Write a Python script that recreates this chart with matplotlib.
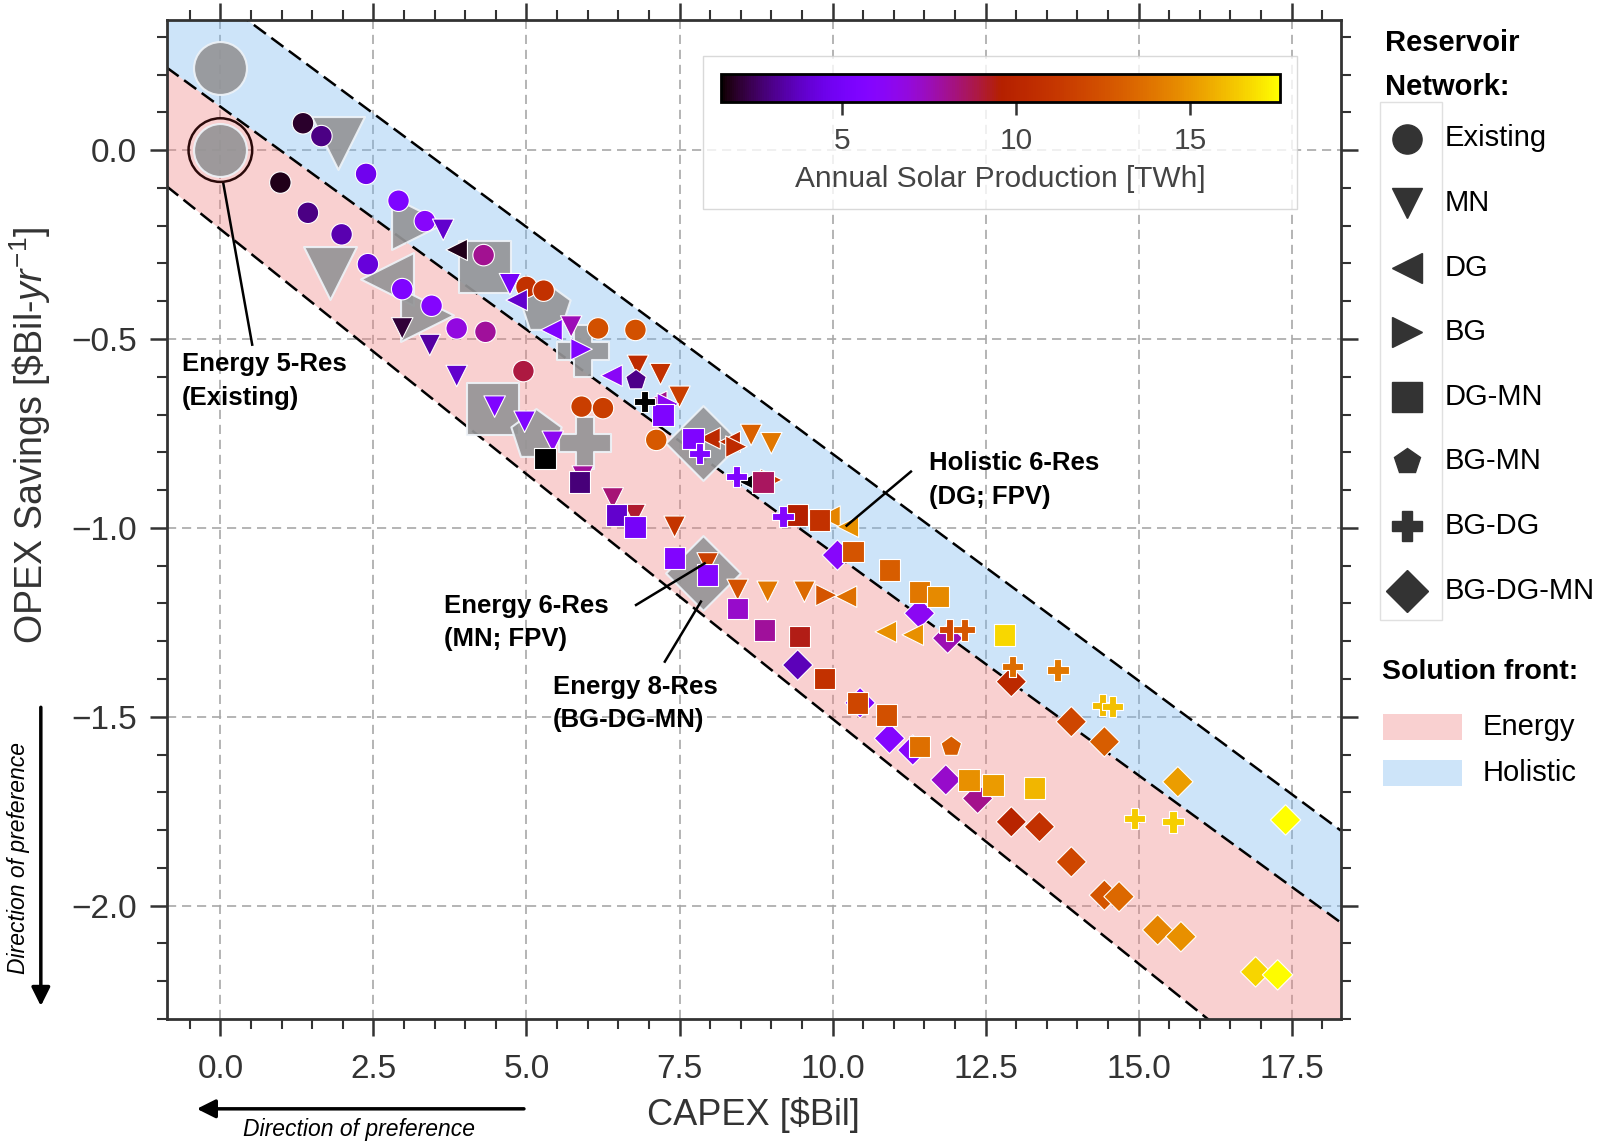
import matplotlib
matplotlib.use("Agg")
import matplotlib.pyplot as plt
import numpy as np
from matplotlib.colors import Normalize
from matplotlib.cm import ScalarMappable
from matplotlib.lines import Line2D
from matplotlib.patches import Rectangle

plt.rcParams["font.family"] = "Liberation Sans"
plt.rcParams["mathtext.fontset"] = "custom"
plt.rcParams["mathtext.rm"] = "Liberation Sans"
plt.rcParams["mathtext.it"] = "Liberation Sans:italic"

# ---------------------------------------------------------------------------
# data: CAPEX [$Bil], OPEX savings [$Bil/yr], annual solar production [TWh]
# ---------------------------------------------------------------------------
existing_capex = [1.35, 1.65, 2.38, 0.98, 1.43, 1.98, 2.91, 3.34, 2.41, 2.97, 3.45,
                  3.86, 4.33, 4.30, 4.95, 5.00, 5.28, 6.17, 6.78, 5.90, 6.25, 7.12]
existing_opex = [0.071, 0.037, -0.063, -0.086, -0.166, -0.223, -0.134, -0.188, -0.302,
                 -0.368, -0.412, -0.472, -0.481, -0.278, -0.585, -0.362, -0.372,
                 -0.472, -0.476, -0.679, -0.683, -0.767]
existing_solar = [2.0, 2.9, 4.6, 1.8, 2.9, 3.5, 5.4, 6.0, 4.2, 5.5, 5.8,
                  6.8, 7.9, 8.0, 8.9, 10.8, 10.8, 12.4, 12.4, 11.5, 11.5, 12.8]

mn_capex = [3.64, 2.97, 3.42, 3.86, 4.73, 5.73, 4.48, 4.97, 5.43, 5.92, 6.82,
            7.19, 7.50, 8.67, 9.00, 6.41, 6.77, 7.42, 7.96, 8.45, 8.94, 9.54]
mn_opex = [-0.211, -0.472, -0.516, -0.598, -0.355, -0.467, -0.679, -0.719, -0.772,
           -0.864, -0.571, -0.593, -0.653, -0.754, -0.776, -0.922, -0.966, -0.997,
           -1.094, -1.164, -1.169, -1.169]
mn_solar = [3.9, 2.1, 3.3, 3.9, 4.9, 7.5, 5.5, 5.5, 6.4, 7.9, 10.4,
            10.8, 11.5, 13.1, 14.0, 8.3, 9.1, 11.0, 11.6, 12.5, 14.0, 13.5]

dg_capex = [3.86, 4.84, 5.41, 6.39, 7.12, 7.99, 8.32, 8.64, 9.95, 10.25, 10.22, 10.87, 11.31]
dg_opex = [-0.264, -0.397, -0.476, -0.597, -0.666, -0.763, -0.772, -0.878, -0.970,
           -0.997, -1.182, -1.275, -1.283]
dg_solar = [1.8, 3.9, 5.6, 6.2, 8.1, 10.3, 10.3, 1.5, 14.4, 14.8, 13.7, 14.8, 14.8]

bg_capex = [5.90, 7.31, 8.43, 9.00, 9.90]
bg_opex = [-0.527, -0.672, -0.785, -0.873, -1.178]
bg_solar = [5.6, 6.4, 10.4, 11.3, 12.6]

dgmn_capex = [5.30, 5.87, 6.47, 6.77, 7.23, 7.72, 7.42, 7.96, 8.45, 8.86, 8.89, 9.46, 9.43,
              9.79, 9.87, 10.33, 10.93, 11.42, 11.72, 12.81, 10.41, 10.88, 11.42, 12.23,
              12.62, 13.30]
dgmn_opex = [-0.816, -0.878, -0.966, -0.997, -0.701, -0.763, -1.080, -1.125, -1.213,
             -0.878, -1.270, -1.288, -0.966, -0.979, -1.398, -1.063, -1.111, -1.169,
             -1.182, -1.283, -1.463, -1.495, -1.579, -1.667, -1.680, -1.689]
dgmn_solar = [1.5, 2.8, 3.9, 5.0, 5.5, 5.5, 5.6, 5.8, 7.2, 8.6, 7.9, 9.3, 9.6,
              10.8, 10.8, 12.6, 13.0, 14.0, 14.6, 16.7, 12.0, 12.4, 13.7, 14.8,
              15.1, 15.9]

bgmn_capex = [6.79, 11.94]
bgmn_opex = [-0.609, -1.579]
bgmn_solar = [3.0, 13.0]

bgdg_capex = [6.93, 7.83, 8.43, 9.19, 11.91, 12.15, 12.94, 13.68, 14.41, 14.57, 14.93, 15.56]
bgdg_opex = [-0.666, -0.803, -0.864, -0.970, -1.270, -1.270, -1.367, -1.376, -1.469,
             -1.473, -1.769, -1.778]
bgdg_solar = [1.5, 5.5, 5.5, 5.8, 12.0, 12.7, 13.6, 14.0, 16.0, 16.1, 16.4, 16.5]

bgdgmn_capex = [10.08, 11.42, 11.88, 9.43, 10.45, 10.93, 11.31, 11.85, 12.37, 12.92, 13.90,
                14.44, 15.64, 17.40, 12.92, 13.38, 13.90, 14.44, 14.68, 15.31, 15.69,
                16.91, 17.27]
bgdgmn_opex = [-1.072, -1.226, -1.292, -1.363, -1.463, -1.557, -1.588, -1.667, -1.716,
               -1.407, -1.513, -1.566, -1.672, -1.773, -1.778, -1.791, -1.884, -1.972,
               -1.976, -2.064, -2.082, -2.175, -2.183]
bgdgmn_solar = [6.0, 6.3, 7.6, 3.6, 5.6, 5.8, 6.0, 7.2, 8.1, 10.3, 12.0,
                13.0, 15.2, 17.6, 9.9, 10.8, 12.0, 12.6, 13.4, 14.4, 14.8,
                16.6, 17.5]

network_names = ["Existing", "MN", "DG", "BG", "DG-MN", "BG-MN", "BG-DG", "BG-DG-MN"]
network_markers = ["o", "v", "<", ">", "s", "p", "P", "D"]
# order in which the groups are drawn (first = underneath)
draw_order = ["BG-DG-MN", "Existing", "MN", "BG-MN", "DG", "BG", "DG-MN", "BG-DG"]

# highlighted (grey) solutions
highlight_markers = ["o", "o", "v", "v", ">", "<", ">", "s", "s", "p", "p", "P", "P", "D", "D"]
highlight_capex = [0.0, 0.0, 1.92, 1.79, 3.23, 2.72, 3.37, 4.33, 4.45, 5.30, 5.16, 5.92, 5.95,
                   7.88, 7.88]
highlight_opex = [0.216, 0.0, 0.018, -0.326, -0.194, -0.34, -0.436, -0.31, -0.685, -0.419,
                  -0.754, -0.532, -0.776, -0.776, -1.12]

# solution-front bands: boundary lines y = a + b * x (lower, middle, upper)
front_names = ["Energy", "Holistic"]
front_colors = ["#f08080", "#78b8f1"]
boundary_intercept = [-0.2095, 0.115, 0.397]
boundary_slope = [-0.1296, -0.1180, -0.1201]

solar_min, solar_max = 1.5, 17.6

networks = {
    "Existing": (existing_capex, existing_opex, existing_solar),
    "MN": (mn_capex, mn_opex, mn_solar),
    "DG": (dg_capex, dg_opex, dg_solar),
    "BG": (bg_capex, bg_opex, bg_solar),
    "DG-MN": (dgmn_capex, dgmn_opex, dgmn_solar),
    "BG-MN": (bgmn_capex, bgmn_opex, bgmn_solar),
    "BG-DG": (bgdg_capex, bgdg_opex, bgdg_solar),
    "BG-DG-MN": (bgdgmn_capex, bgdgmn_opex, bgdgmn_solar),
}
marker_of = dict(zip(network_names, network_markers))

# ---------------------------------------------------------------------------
fig = plt.figure(figsize=(16.01, 11.45), dpi=100)
ax = fig.add_axes([0.104, 0.110, 0.7334, 0.8721])
xlim = (-0.88, 18.3)
ylim = (-2.30, 0.343)

text_col = "#333333"

# bands
xs = np.array(xlim)
lines = [boundary_intercept[i] + boundary_slope[i] * xs for i in range(3)]
for i in range(2):
    ax.fill_between(xs, lines[i], lines[i + 1], color=front_colors[i], alpha=0.37,
                    lw=0, zorder=1)
for ln in lines:
    ax.plot(xs, ln, color="black", lw=1.8, ls=(0, (6, 2.7)), zorder=2)

# grey highlighted solutions
for m, x, y in zip(highlight_markers, highlight_capex, highlight_opex):
    ax.scatter(x, y, marker=m, s=1450, color="#959597", alpha=0.92,
               edgecolors="#eef3f8", linewidths=1.5, zorder=3)

norm = Normalize(solar_min, solar_max)
cmap = plt.get_cmap("gnuplot")
for name in draw_order:
    x, y, c = networks[name]
    ax.scatter(x, y, c=c, cmap=cmap, norm=norm, marker=marker_of[name], s=240,
               edgecolors="white", linewidths=0.8, zorder=4)

# ring around the Energy existing network
ax.scatter(highlight_capex[1], highlight_opex[1], marker="o", s=2100,
           facecolors="none", edgecolors="#2b0a0a", linewidths=1.8, zorder=5)

# annotations
ann_kw = dict(fontsize=18.5, fontweight="bold", color="black", va="top", ha="left",
              linespacing=1.5, zorder=7)
ax.text(-0.63, -0.535, "Energy 5-Res\n(Existing)", **ann_kw)
ax.plot([0.52, 0.05], [-0.515, -0.09], color="black", lw=1.8, zorder=6)
ax.text(11.58, -0.797, "Holistic 6-Res\n(DG; FPV)", **ann_kw)
ax.plot([11.28, 10.23], [-0.851, -0.994], color="black", lw=1.8, zorder=6)
ax.text(3.65, -1.174, "Energy 6-Res\n(MN; FPV)", **ann_kw)
ax.plot([6.79, 7.91], [-1.204, -1.094], color="black", lw=1.8, zorder=6)
ax.text(5.43, -1.389, "Energy 8-Res\n(BG-DG-MN)", **ann_kw)
ax.plot([7.26, 7.85], [-1.354, -1.195], color="black", lw=1.8, zorder=6)

# axes styling
ax.set_xlim(xlim)
ax.set_ylim(ylim)
ax.set_xticks(np.arange(0, 17.6, 2.5))
ax.set_xticks(np.arange(-0.5, 18.3, 0.5), minor=True)
ax.set_yticks([0.0, -0.5, -1.0, -1.5, -2.0])
ax.set_yticks(np.arange(-2.3, 0.35, 0.1), minor=True)
ax.set_axisbelow(True)
ax.grid(True, which="major", color="#a8a8a8", lw=1.2, ls=(0, (5.5, 3.5)), zorder=0)
for sp in ax.spines.values():
    sp.set_linewidth(2.0)
    sp.set_color(text_col)
ax.tick_params(which="both", direction="out", top=True, right=True, color=text_col)
ax.tick_params(which="major", length=12, width=1.8, labelsize=24, labelcolor=text_col)
ax.tick_params(axis="x", which="major", pad=13)
ax.tick_params(axis="y", which="major", pad=9)
ax.tick_params(which="minor", length=7, width=1.5)

ax.set_xlabel(r"CAPEX [\$Bil]", fontsize=26, color=text_col, labelpad=9)
ax.set_ylabel(r"OPEX Savings [\$Bil-$yr^{-1}$]", fontsize=27, color=text_col)
ax.yaxis.set_label_coords(-0.097, 0.585)

# direction of preference arrows
ax.annotate("", xy=(0.1212, 0.0316), xytext=(0.329, 0.0316), xycoords="figure fraction",
            arrowprops=dict(arrowstyle="-|>", lw=2.5, color="black", mutation_scale=28))
fig.text(0.2245, 0.0138, "Direction of preference", fontsize=16.5, style="italic",
         ha="center", va="center", color="black")
ax.annotate("", xy=(0.0255, 0.119), xytext=(0.0255, 0.3847), xycoords="figure fraction",
            arrowprops=dict(arrowstyle="-|>", lw=2.5, color="black", mutation_scale=28))
fig.text(0.0115, 0.251, "Direction of preference", fontsize=16.5, style="italic",
         ha="center", va="center", rotation=90, color="black")

# colorbar in a translucent box
ax.add_patch(Rectangle((0.4388, 0.8172), 0.3712, 0.1337, transform=fig.transFigure,
                       facecolor="white", alpha=0.8, edgecolor="#d0d0d0", lw=1.0,
                       zorder=10, clip_on=False))
cax = fig.add_axes([0.4502, 0.9108, 0.3495, 0.025])
sm = ScalarMappable(norm=norm, cmap=cmap)
cb = fig.colorbar(sm, cax=cax, orientation="horizontal")
cb.set_ticks([5, 10, 15])
cb.outline.set_linewidth(2.0)
cax.tick_params(length=9, width=1.8, color=text_col, labelsize=21.5,
                labelcolor="#444444", pad=9)
cb.set_label("Annual Solar Production [TWh]", fontsize=21.5, color="#444444", labelpad=7)

# reservoir network legend (drawn by hand in figure coordinates)
fig.text(0.8648, 0.9625, "Reservoir", fontsize=21, fontweight="bold", va="center")
fig.text(0.8648, 0.9242, "Network:", fontsize=21, fontweight="bold", va="center")
fig.add_artist(Rectangle((0.862, 0.4585), 0.0385, 0.4524, transform=fig.transFigure,
                         facecolor="none", edgecolor="#e0e0e0", lw=1.0))
for i, (name, m) in enumerate(zip(network_names, network_markers)):
    yy = 1 - (138.5 + 64.6 * i) / 1145
    ms = 19 if m == "p" else 21
    fig.add_artist(Line2D([0.8788], [yy], marker=m, markersize=ms, color=text_col,
                          ls="none", transform=fig.transFigure))
    fig.text(0.9024, yy, name, fontsize=21, va="center", color="black")

fig.text(0.8635, 0.4133, "Solution front:", fontsize=20.5, fontweight="bold", va="center")
for i, (name, col) in enumerate(zip(front_names, front_colors)):
    yy = [0.3651, 0.3249][i]
    fig.add_artist(Rectangle((0.8641, yy - 0.01155), 0.049, 0.0231,
                             transform=fig.transFigure, facecolor=col, alpha=0.37,
                             edgecolor="none"))
    fig.text(0.926, yy, name, fontsize=21, va="center", color="black")

fig.savefig("out.png", dpi=100)
